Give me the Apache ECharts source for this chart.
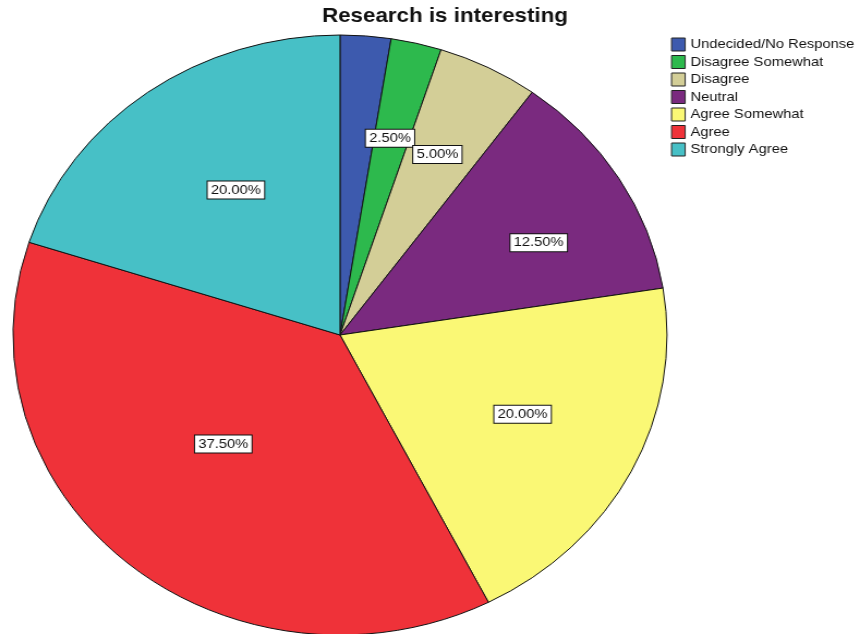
<!DOCTYPE html>
<html><head><meta charset="utf-8">
<script src="https://cdn.jsdelivr.net/npm/echarts@6/dist/echarts.min.js"></script>
<style>
html,body{margin:0;padding:0;background:#fff;}
#wrap{position:relative;width:860px;height:634px;overflow:hidden;}
#c{position:absolute;left:0;top:0;width:789px;height:634px;transform-origin:0 0;transform:scaleX(1.09);}
</style></head>
<body><div id="wrap"><div id="c"></div></div>
<script>
const titleText = 'Research is interesting';
const categories = ['Undecided/No Response','Disagree Somewhat','Disagree','Neutral','Agree Somewhat','Agree','Strongly Agree'];
const values = [2.5, 2.5, 5, 12.5, 20, 37.5, 20];
const colors = ['#3D5AAE','#2DB94D','#D3CE97','#7A2A7F','#FAF875','#EF3239','#47C0C6'];
const hiddenLabels = ['Undecided/No Response'];
// label nudges (style only, in px)
const labelNudge = { 'Neutral': [22, 6], 'Agree': [15, -34], 'Strongly Agree': [15, 7], 'Disagree': [4, -13], 'Disagree Somewhat': [2, -14], 'Agree Somewhat': [0, -6] };

const SX = 1.09;
const CX = 340 / SX, CY = 335, R = 300;
const FONT = 'Liberation Sans, Arial, sans-serif';

const pieData = categories.map((c, i) => ({
  name: c, value: values[i],
  itemStyle: { color: colors[i] }
}));
const labelData = categories.map((c, i) => ({
  name: c, value: values[i],
  label: { show: hiddenLabels.indexOf(c) < 0, offset: labelNudge[c] || [0, 0] }
}));

const chart = echarts.init(document.getElementById('c'), null, {renderer: 'canvas'});
chart.setOption({
  animation: false,
  title: {
    text: titleText, left: 322 / SX, top: 6, padding: 0,
    textStyle: { fontFamily: FONT, fontSize: 20.5, fontWeight: 'bold', color: '#111' }
  },
  legend: {
    orient: 'vertical', left: 671 / SX, top: 37.5, padding: 0,
    icon: 'rect', itemWidth: 12.5, itemHeight: 13, itemGap: 3.5,
    itemStyle: { borderColor: '#222', borderWidth: 1 },
    textStyle: { fontFamily: FONT, fontSize: 13.5, color: '#111', lineHeight: 14 },
    data: categories
  },
  series: [{
    type: 'pie', center: [CX, CY], radius: [0, R], startAngle: 90, clockwise: true,
    silent: true, label: { show: false }, labelLine: { show: false },
    itemStyle: { borderColor: '#111', borderWidth: 1 },
    data: pieData
  }, {
    type: 'pie', center: [CX, CY], radius: [0, 370], startAngle: 90, clockwise: true,
    silent: true, avoidLabelOverlap: false,
    labelLayout: { hideOverlap: false },
    itemStyle: { color: 'rgba(0,0,0,0)', borderWidth: 0 },
    labelLine: { show: false },
    label: {
      show: true, position: 'inside',
      formatter: p => p.value.toFixed(2) + '%',
      fontFamily: FONT, fontSize: 13.5, color: '#111', lineHeight: 15,
      backgroundColor: '#fff', borderColor: '#111', borderWidth: 1, padding: [1, 3]
    },
    data: labelData
  }]
});
</script></body></html>
